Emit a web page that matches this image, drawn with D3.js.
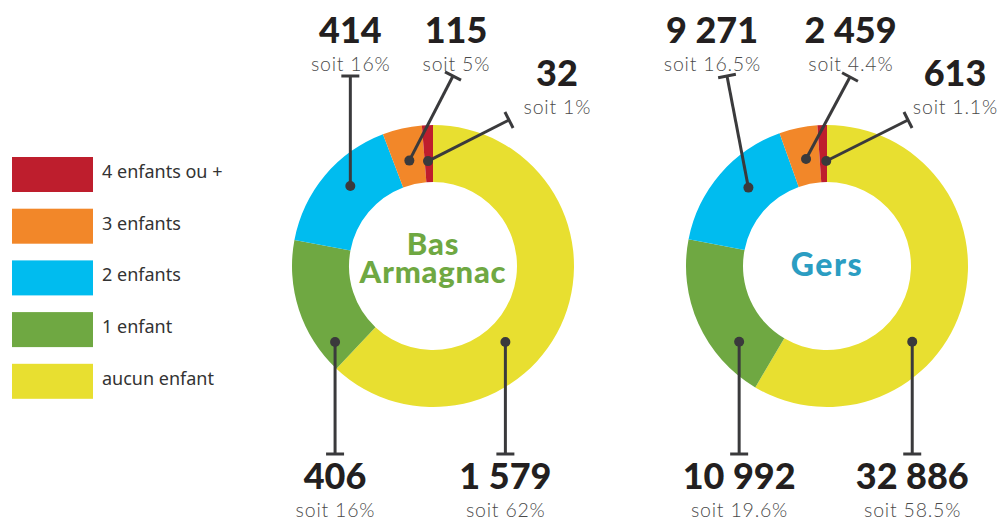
<!DOCTYPE html>
<html><head><meta charset="utf-8">
<script src="https://cdn.jsdelivr.net/npm/d3@7"></script>
<style>
html,body{margin:0;padding:0;background:#fff;}
svg{display:block;}
</style></head>
<body>
<svg id="chart" width="999" height="521"></svg>
<script>
// ---- data ----
const categories = ["aucun enfant", "1 enfant", "2 enfants", "3 enfants", "4 enfants ou +"];
const colors = ["#E8DF30", "#6FA842", "#00BCEF", "#F28729", "#BE1E2D"];
const legendOrder = ["4 enfants ou +", "3 enfants", "2 enfants", "1 enfant", "aucun enfant"];
const basArmagnacValues = [1579, 406, 414, 115, 32];
const basArmagnacLabels = ["1 579", "406", "414", "115", "32"];
const basArmagnacPct = ["soit 62%", "soit 16%", "soit 16%", "soit 5%", "soit 1%"];
const gersValues = [32886, 10992, 9271, 2459, 613];
const gersLabels = ["32 886", "10 992", "9 271", "2 459", "613"];
const gersPct = ["soit 58.5%", "soit 19.6%", "soit 16.5%", "soit 4.4%", "soit 1.1%"];

const svg = d3.select("#chart");
const color = d3.scaleOrdinal().domain(categories).range(colors);

// ---- legend ----
const lg = svg.append("g");
legendOrder.forEach((c, i) => {
  const y = 157 + i * 51.7;
  lg.append("rect").attr("x", 12).attr("y", y).attr("width", 81).attr("height", 35).attr("fill", color(c));
  lg.append("text").attr("x", 102).attr("y", y + 21)
    .attr("font-family", "Noto Sans, sans-serif").attr("font-size", 18).attr("fill", "#333")
    .text(c);
});

const R = 141, r0 = 84;
const pie = d3.pie().sort(null).value(d => d.v);
const arc = d3.arc().innerRadius(r0).outerRadius(R);

function donut(cfg) {
  const data = categories.map((c, i) => ({c, v: cfg.values[i], label: cfg.labels[i], pct: cfg.pct[i], ann: cfg.ann[i]}));
  const g = svg.append("g").attr("transform", `translate(${cfg.cx},${cfg.cy})`);
  const arcs = pie(data);
  g.selectAll("path.slice").data(arcs).enter().append("path")
    .attr("class", "slice").attr("d", arc).attr("fill", d => color(d.data.c));

  // center title
  const t = g.append("text").attr("text-anchor", "middle")
    .attr("font-family", "Lato, sans-serif").attr("font-weight", 900)
    .attr("font-size", cfg.titleSize).attr("letter-spacing", cfg.titleLs).attr("fill", cfg.titleColor);
  cfg.title.forEach((line, i) => {
    t.append("tspan").attr("x", cfg.titleDx).attr("y", cfg.titleY[i]).text(line);
  });

  // annotations
  arcs.forEach(a => {
    const an = a.data.ann;
    const ang = a.startAngle + an.t * (a.endAngle - a.startAngle);
    const dx = Math.sin(ang) * an.r, dy = -Math.cos(ang) * an.r;
    const ex = an.vertical ? dx : an.ex - cfg.cx;
    const ey = an.ey - cfg.cy;
    g.append("line").attr("x1", dx).attr("y1", dy).attr("x2", ex).attr("y2", ey)
      .attr("stroke", "#3a3a3c").attr("stroke-width", 3);
    const L = Math.hypot(ex - dx, ey - dy);
    const px = -(ey - dy) / L * 9, py = (ex - dx) / L * 9;
    g.append("line").attr("x1", ex - px).attr("y1", ey - py).attr("x2", ex + px).attr("y2", ey + py)
      .attr("stroke", "#3a3a3c").attr("stroke-width", 3);
    g.append("circle").attr("cx", dx).attr("cy", dy).attr("r", 5).attr("fill", "#3a3a3c");
    const lx = an.vertical ? cfg.cx + dx : an.lx;
    svg.append("text").attr("x", lx).attr("y", an.ly).attr("text-anchor", "middle")
      .attr("font-family", "Lato, sans-serif").attr("font-weight", 900).attr("font-size", 36)
      .attr("fill", "#231f20").text(a.data.label);
    svg.append("text").attr("x", lx + 0.4).attr("y", an.ly + 28).attr("text-anchor", "middle")
      .attr("font-family", "Lato, sans-serif").attr("font-weight", 300).attr("font-size", 19.5)
      .attr("letter-spacing", 0.8).attr("fill", "#4a4a4a").text(a.data.pct);
  });
}

donut({
  cx: 433, cy: 266, values: basArmagnacValues, labels: basArmagnacLabels, pct: basArmagnacPct,
  title: ["Bas", "Armagnac"], titleColor: "#6FA842", titleSize: 31, titleLs: 0.8, titleDx: 0, titleY: [-11, 17],
  ann: [
    {t: 0.611, r: 105, vertical: true, ey: 454, ly: 489},
    {t: 0.155, r: 124, vertical: true, ey: 454, ly: 489},
    {t: 0.57, r: 115, vertical: true, ey: 76, ly: 43},
    {t: 0.5, r: 108, ex: 453, ey: 76, lx: 456, ly: 43},
    {t: 0.4, r: 105, ex: 509, ey: 120, lx: 557, ly: 86}
  ]
});
donut({
  cx: 827, cy: 266, values: gersValues, labels: gersLabels, pct: gersPct,
  title: ["Gers"], titleColor: "#2B9DC2", titleSize: 32, titleLs: 1.5, titleDx: 0, titleY: [10],
  ann: [
    {t: 0.625, r: 114, vertical: true, ey: 454, ly: 489},
    {t: 0.265, r: 116, vertical: true, ey: 454, ly: 489},
    {t: 0.572, r: 111, ex: 727, ey: 76, lx: 712, ly: 43},
    {t: 0.545, r: 109, ex: 850, ey: 77, lx: 850.5, ly: 43},
    {t: 0.9, r: 105, ex: 908, ey: 120, lx: 955, ly: 86}
  ]
});
</script>
</body></html>
